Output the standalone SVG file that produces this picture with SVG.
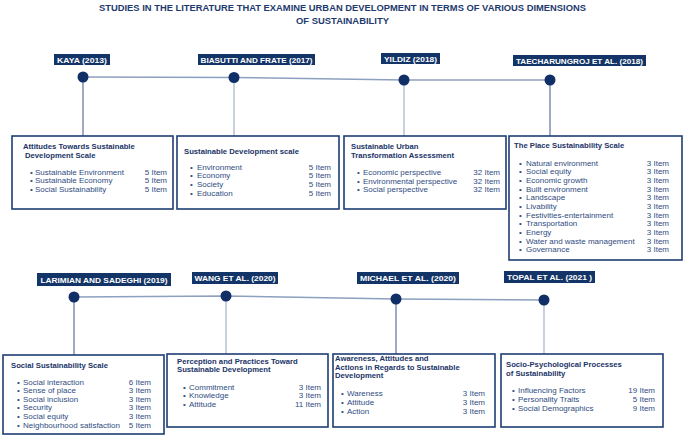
<svg xmlns="http://www.w3.org/2000/svg" width="685" height="436" viewBox="0 0 685 436">
<style>
.title{font-family:"Liberation Sans",Arial,sans-serif;font-weight:bold;font-size:8.6px;fill:#1e3a6e}
.lbl{fill:#133466}
.lbltxt{font-family:"Liberation Sans",Arial,sans-serif;font-weight:bold;font-size:7.4px;fill:#ffffff}
.box{fill:#ffffff;stroke:#1f3e74;stroke-width:1.6}
.bt{font-family:"Liberation Sans",Arial,sans-serif;font-weight:bold;font-size:7.7px;fill:#1b3466}
.it{font-family:"Liberation Sans",Arial,sans-serif;font-size:8px;fill:#2f4c82}
.n{text-anchor:end}
.dot{fill:#0f2f66}
.hl{stroke:#8ea0bf;stroke-width:1.4;fill:none}
.vd{stroke:#4b6592;stroke-width:1.1;fill:none}
.vl{stroke:#a3b3cc;stroke-width:1.2;fill:none}
</style>
<text class="title" x="342.5" y="11" text-anchor="middle" textLength="487" lengthAdjust="spacingAndGlyphs">STUDIES IN THE LITERATURE THAT EXAMINE URBAN DEVELOPMENT IN TERMS OF VARIOUS DIMENSIONS</text>
<text class="title" x="342.5" y="24" text-anchor="middle" textLength="93" lengthAdjust="spacingAndGlyphs">OF SUSTAINABILITY</text>

<g id="connectors">
<polyline class="hl" points="83,77 234,77.5 404,80 550,80"/>
<polyline class="hl" points="74,297 226,296 396,299 544,300"/>
<line class="vd" x1="83" y1="77" x2="83" y2="136"/>
<line class="vl" x1="234" y1="77.5" x2="234" y2="136"/>
<line class="vl" x1="404" y1="80" x2="404" y2="136"/>
<line class="vd" x1="550" y1="80" x2="550" y2="136"/>
<line class="vd" x1="74" y1="297" x2="74" y2="355"/>
<line class="vl" x1="226" y1="296" x2="226" y2="354"/>
<line class="vd" x1="396" y1="299" x2="396" y2="354"/>
<line class="vl" x1="544" y1="300" x2="544" y2="354"/>
</g>

<g id="kaya">
<rect class="lbl" x="54" y="54" width="56" height="11"/>
<text class="lbltxt" x="82" y="62.5" text-anchor="middle" textLength="50" lengthAdjust="spacingAndGlyphs">KAYA (2013)</text>
<circle class="dot" cx="83" cy="77" r="5.5"/>
<rect class="box" x="12" y="136" width="161" height="73"/>
<text class="bt" x="23" y="148.5">Attitudes Towards Sustainable</text>
<text class="bt" x="25" y="157.5">Development Scale</text>
<g class="it">
<text x="30" y="174.5">•</text><text x="35" y="174.5">Sustainable Environment</text><text class="n" x="167" y="174.5">5 Item</text>
<text x="30" y="183.3">•</text><text x="35" y="183.3">Sustainable Economy</text><text class="n" x="167" y="183.3">5 Item</text>
<text x="30" y="192">•</text><text x="35" y="192">Social Sustainability</text><text class="n" x="167" y="192">5 Item</text>
</g>
</g>

<g id="biasutti">
<rect class="lbl" x="198" y="54" width="117" height="11"/>
<text class="lbltxt" x="256.5" y="62.5" text-anchor="middle" textLength="112" lengthAdjust="spacingAndGlyphs">BIASUTTI AND FRATE (2017)</text>
<circle class="dot" cx="234" cy="77.5" r="5.5"/>
<rect class="box" x="177" y="136" width="162" height="73"/>
<text class="bt" x="184" y="153.5">Sustainable Development scale</text>
<g class="it">
<text x="190" y="169.5">•</text><text x="197" y="169.5">Environment</text><text class="n" x="331" y="169.5">5 Item</text>
<text x="190" y="178.2">•</text><text x="197" y="178.2">Economy</text><text class="n" x="331" y="178.2">5 Item</text>
<text x="190" y="186.9">•</text><text x="197" y="186.9">Society</text><text class="n" x="331" y="186.9">5 Item</text>
<text x="190" y="195.6">•</text><text x="197" y="195.6">Education</text><text class="n" x="331" y="195.6">5 Item</text>
</g>
</g>

<g id="yildiz">
<rect class="lbl" x="381" y="53" width="59" height="11"/>
<text class="lbltxt" x="410.5" y="61.5" text-anchor="middle" textLength="53" lengthAdjust="spacingAndGlyphs">YILDIZ (2018)</text>
<circle class="dot" cx="404" cy="80" r="5.5"/>
<rect class="box" x="344" y="136" width="162" height="73"/>
<text class="bt" x="351" y="148.5">Sustainable Urban</text>
<text class="bt" x="351" y="157.5">Transformation Assessment</text>
<g class="it">
<text x="357" y="175">•</text><text x="363" y="175">Economic perspective</text><text class="n" x="500" y="175">32 Item</text>
<text x="357" y="183.6">•</text><text x="363" y="183.6">Environmental perspective</text><text class="n" x="500" y="183.6">32 Item</text>
<text x="357" y="192.2">•</text><text x="363" y="192.2">Social perspective</text><text class="n" x="500" y="192.2">32 Item</text>
</g>
</g>

<g id="taecharungroj">
<rect class="lbl" x="513" y="55" width="133" height="11"/>
<text class="lbltxt" x="579.5" y="63.5" text-anchor="middle" textLength="127" lengthAdjust="spacingAndGlyphs">TAECHARUNGROJ ET AL. (2018)</text>
<circle class="dot" cx="550" cy="80" r="5.5"/>
<rect class="box" x="509" y="136" width="173" height="124"/>
<text class="bt" x="514" y="148">The Place Sustainability Scale</text>
<g class="it">
<text x="519" y="165.8">•</text><text x="526" y="165.8">Natural environment</text><text class="n" x="669" y="165.8">3 Item</text>
<text x="519" y="174.4">•</text><text x="526" y="174.4">Social equity</text><text class="n" x="669" y="174.4">3 Item</text>
<text x="519" y="183.1">•</text><text x="526" y="183.1">Economic growth</text><text class="n" x="669" y="183.1">3 Item</text>
<text x="519" y="191.7">•</text><text x="526" y="191.7">Built environment</text><text class="n" x="669" y="191.7">3 Item</text>
<text x="519" y="200.3">•</text><text x="526" y="200.3">Landscape</text><text class="n" x="669" y="200.3">3 Item</text>
<text x="519" y="209">•</text><text x="526" y="209">Livability</text><text class="n" x="669" y="209">3 Item</text>
<text x="519" y="217.6">•</text><text x="526" y="217.6">Festivities-entertainment</text><text class="n" x="669" y="217.6">3 Item</text>
<text x="519" y="226.2">•</text><text x="526" y="226.2">Transportation</text><text class="n" x="669" y="226.2">3 Item</text>
<text x="519" y="234.9">•</text><text x="526" y="234.9">Energy</text><text class="n" x="669" y="234.9">3 Item</text>
<text x="519" y="243.5">•</text><text x="526" y="243.5">Water and waste management</text><text class="n" x="669" y="243.5">3 Item</text>
<text x="519" y="252.1">•</text><text x="526" y="252.1">Governance</text><text class="n" x="669" y="252.1">3 Item</text>
</g>
</g>

<g id="larimian">
<rect class="lbl" x="37" y="273" width="134" height="13"/>
<text class="lbltxt" x="104" y="282.5" text-anchor="middle" textLength="127" lengthAdjust="spacingAndGlyphs">LARIMIAN AND SADEGHI (2019)</text>
<circle class="dot" cx="74" cy="297" r="5.5"/>
<rect class="box" x="3" y="355" width="161" height="79"/>
<text class="bt" x="11" y="367.5">Social Sustainability Scale</text>
<g class="it">
<text x="17" y="384.5">•</text><text x="23" y="384.5">Social interaction</text><text class="n" x="151" y="384.5">6 Item</text>
<text x="17" y="393.1">•</text><text x="23" y="393.1">Sense of place</text><text class="n" x="151" y="393.1">3 Item</text>
<text x="17" y="401.7">•</text><text x="23" y="401.7">Social inclusion</text><text class="n" x="151" y="401.7">3 Item</text>
<text x="17" y="410.3">•</text><text x="23" y="410.3">Security</text><text class="n" x="151" y="410.3">3 Item</text>
<text x="17" y="418.9">•</text><text x="23" y="418.9">Social equity</text><text class="n" x="151" y="418.9">3 Item</text>
<text x="17" y="427.5">•</text><text x="23" y="427.5">Neighbourhood satisfaction</text><text class="n" x="151" y="427.5">5 Item</text>
</g>
</g>

<g id="wang">
<rect class="lbl" x="192" y="272" width="86" height="12"/>
<text class="lbltxt" x="235" y="281" text-anchor="middle" textLength="81" lengthAdjust="spacingAndGlyphs">WANG ET AL. (2020)</text>
<circle class="dot" cx="226" cy="296" r="5.5"/>
<rect class="box" x="167" y="354" width="161" height="73"/>
<text class="bt" x="177" y="363.5">Perception and Practices Toward</text>
<text class="bt" x="177" y="372.2">Sustainable Development</text>
<g class="it">
<text x="183" y="389.5">•</text><text x="189" y="389.5">Commitment</text><text class="n" x="321" y="389.5">3 Item</text>
<text x="183" y="398.1">•</text><text x="189" y="398.1">Knowledge</text><text class="n" x="321" y="398.1">3 Item</text>
<text x="183" y="406.8">•</text><text x="189" y="406.8">Attitude</text><text class="n" x="321" y="406.8">11 Item</text>
</g>
</g>

<g id="michael">
<rect class="lbl" x="357" y="272" width="102" height="12"/>
<text class="lbltxt" x="408" y="281" text-anchor="middle" textLength="96" lengthAdjust="spacingAndGlyphs">MICHAEL ET AL. (2020)</text>
<circle class="dot" cx="396" cy="299" r="5.5"/>
<rect class="box" x="333" y="354" width="162" height="73"/>
<text class="bt" x="335" y="361">Awareness, Attitudes and</text>
<text class="bt" x="335" y="369.7">Actions in Regards to Sustainable</text>
<text class="bt" x="335" y="378.4">Development</text>
<g class="it">
<text x="341" y="396.1">•</text><text x="347" y="396.1">Wareness</text><text class="n" x="485" y="396.1">3 Item</text>
<text x="341" y="404.8">•</text><text x="347" y="404.8">Attitude</text><text class="n" x="485" y="404.8">3 Item</text>
<text x="341" y="413.5">•</text><text x="347" y="413.5">Action</text><text class="n" x="485" y="413.5">3 Item</text>
</g>
</g>

<g id="topal">
<rect class="lbl" x="504" y="271" width="91" height="12"/>
<text class="lbltxt" x="549.5" y="280" text-anchor="middle" textLength="85" lengthAdjust="spacingAndGlyphs">TOPAL ET AL. (2021 )</text>
<circle class="dot" cx="544" cy="300" r="5.5"/>
<rect class="box" x="501" y="354" width="162" height="73"/>
<text class="bt" x="506" y="367">Socio-Psychological Processes</text>
<text class="bt" x="506" y="375.7">of Sustainability</text>
<g class="it">
<text x="512" y="393.1">•</text><text x="518" y="393.1">Influencing Factors</text><text class="n" x="655" y="393.1">19 Item</text>
<text x="512" y="401.8">•</text><text x="518" y="401.8">Personality Traits</text><text class="n" x="655" y="401.8">5 Item</text>
<text x="512" y="410.5">•</text><text x="518" y="410.5">Social Demographics</text><text class="n" x="655" y="410.5">9 Item</text>
</g>
</g>
</svg>
